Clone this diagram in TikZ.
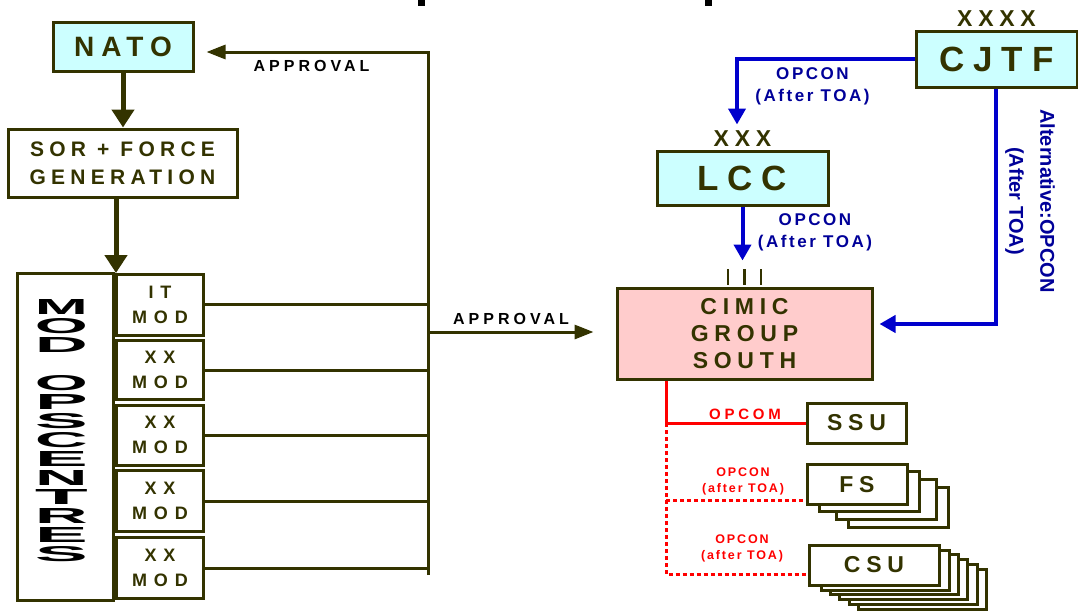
\documentclass[tikz,border=0pt]{standalone}
\usepackage{fontspec}
\usepackage{graphicx}
\setmainfont{Liberation Sans}
\newfontfamily\spc[LetterSpace=25]{Liberation Sans}
\newfontfamily\spcn[LetterSpace=15]{Liberation Sans}
\newfontfamily\spcw[LetterSpace=38]{Liberation Sans}
\usetikzlibrary{arrows.meta,calc,positioning}
\definecolor{drab}{HTML}{333300}
\definecolor{cmdblue}{HTML}{0000CC}
\definecolor{labblue}{HTML}{000099}
\definecolor{hqcyan}{HTML}{CCFFFF}
\definecolor{cimicpink}{HTML}{FFCCCC}
\newcommand\fsz[2]{\fontsize{#1}{#2}\selectfont}
\newcommand\opsl[1]{\resizebox{53pt}{15pt}{#1}}
\tikzset{
  unit box/.style={draw=drab,line width=3pt,fill=white,inner sep=0pt,align=center,text=drab,font=\spc\bfseries\fsz{23}{27}},
  hq box/.style={unit box,fill=hqcyan},
  mod box/.style={unit box,minimum width=87pt,font=\spcw\bfseries\fsz{18}{25}},
  stack box/.style={draw=drab,line width=3pt,fill=white,inner sep=0pt},
  ops text/.style={inner sep=0pt,align=center,text=black,font=\bfseries\fsz{22}{19}},
  echelon/.style={inner sep=0pt,text=drab,font=\spc\bfseries\fsz{23}{27}},
  big edge/.style={draw=drab,line width=5pt,-{Triangle[length=18pt,width=22pt]}},
  bus line/.style={draw=drab,line width=3pt},
  approval edge/.style={bus line,-{Triangle[length=19pt,width=14pt]}},
  approval label/.style={inner sep=0pt,text=black,font=\spc\bfseries\fsz{16}{20}},
  opcon edge/.style={draw=cmdblue,line width=4pt,-{Triangle[length=16pt,width=17pt]}},
  opcon label/.style={inner sep=0pt,align=center,text=labblue,font=\spcn\bfseries\fsz{17}{22}},
  opcom edge/.style={draw=red,line width=3pt},
  opcon red/.style={draw=red,line width=3pt,dash pattern=on 4pt off 3pt},
  red label/.style={inner sep=0pt,align=center,text=red,font=\spcn\bfseries\fsz{12.5}{16}},
}

\begin{document}
\begin{tikzpicture}[x=1pt,y=-1pt]
  \useasboundingbox (0,0) rectangle (1078,613);
  % cut-off title marks
  \fill (418,0) rectangle (425,6);
  \fill (705,0) rectangle (712,6);

  % left column
  \node[hq box,minimum width=140pt,minimum height=49pt,font=\spc\bfseries\fsz{28}{30}] (nato) at (123,46.5) {NATO};
  \node[unit box,minimum width=229pt,minimum height=68pt,font=\spc\bfseries\fsz{21}{28}] (sor) at (122.5,163) {SOR + FORCE\\GENERATION};
  \node[unit box,minimum width=96pt,minimum height=327pt] (opsc) at (65,436.5) {};
  \node[ops text] (opstext) at (61.5,430.5) {\opsl{M}\\\opsl{O}\\\opsl{D}\\[19pt]\opsl{O}\\\opsl{P}\\\opsl{S}\\\opsl{C}\\\opsl{E}\\\opsl{N}\\\opsl{T}\\\opsl{R}\\\opsl{E}\\\opsl{S}};
  \foreach \i/\y/\h/\t in {1/304.5/61/IT,2/370/59/XX,3/435/60/XX,4/501/61/XX,5/568/61/XX}
    \node[mod box,minimum height=\h pt] (m\i) at (160,\y) {\t\\MOD};
  \coordinate (modtop) at (116,273);

  \draw[big edge] (nato.south) -- (nato.south |- sor.north);
  \draw[big edge] (sor.south -| modtop) -- (modtop);

  % approval bus
  \coordinate (bustop) at (428,52);
  \coordinate (busmid) at (428,332);
  \coordinate (busbot) at (428,575);
  \foreach \i in {1,...,5}
    \draw[bus line] (m\i.east) -- (m\i.east -| bustop);
  \draw[approval edge,shorten >=12pt] (busbot) -- (bustop) -- (nato.east |- bustop);
  \node[approval label] (appr1) at (311.5,66) {APPROVAL};

  % right column
  \node[hq box,minimum width=161pt,minimum height=56pt,font=\spc\bfseries\fsz{35}{38}] (cjtf) at (996.5,59) {CJTF};
  \node[echelon,above=3pt of cjtf] (cjtfx) {XXXX};
  \node[hq box,minimum width=171pt,minimum height=54pt,font=\spc\bfseries\fsz{35}{38}] (lcc) at (742.5,178) {LCC};
  \node[echelon,above=3pt of lcc] (lccx) {XXX};
  \node[unit box,fill=cimicpink,minimum width=255pt,minimum height=91pt] (cimic) at (744.5,333.5) {CIMIC\\GROUP\\SOUTH};
  \foreach \dx in {-16.5,0,16.5}
    \draw[drab,line width=2.5pt] ($(cimic.north)+(\dx,-2)$) -- ++(0,-16);

  \draw[approval edge,shorten >=22pt] (busmid) -- (cimic.west |- busmid);
  \node[approval label] (appr2) at (511,319) {APPROVAL};

  \coordinate (opbend) at (737,59);
  \draw[opcon edge,shorten >=25pt] (cjtf.west) -- (opbend) -- (opbend |- lcc.north);
  \node[opcon label] (op1) at (812.5,86) {OPCON\\(After TOA)};
  \draw[opcon edge,shorten >=26pt] (lcc.south) -- (lcc.south |- cimic.north);
  \node[opcon label] (op2) at (815,232) {OPCON\\(After TOA)};
  \coordinate (altbend) at (996,324);
  \draw[opcon edge,shorten >=6pt] (cjtf.south -| altbend) -- (altbend) -- (altbend -| cimic.east);
  \node[inner sep=0pt,align=center,text=labblue,font=\bfseries\fsz{20}{31},rotate=-90] (alt) at (1030,201) {Alternative:OPCON\\(After TOA)};

  % subordinate units
  \node[unit box,minimum width=99pt,minimum height=40pt] (ssu) at (856.5,423) {SSU};
  \foreach \i/\dx/\dy in {3/41/23,2/29/15,1/12/7}
    \node[stack box,minimum width=100pt,minimum height=40pt] (fsb\i) at (857+\dx,484.5+\dy) {};
  \node[unit box,minimum width=100pt,minimum height=40pt] (fs) at (857,484.5) {FS};
  \foreach \i/\dx/\dy in {5/48/24,4/39/19,3/29/14,2/20/9,1/11/5}
    \node[stack box,minimum width=128pt,minimum height=40pt] (csub\i) at (874+\dx,565+\dy) {};
  \node[unit box,minimum width=130pt,minimum height=40pt] (csu) at (874,565) {CSU};

  \coordinate (rbus) at (666,423);
  \coordinate (fsend) at ($(fs.south west)+(0,-6)$);
  \coordinate (csuend) at ($(csu.south west)+(0,-12)$);
  \draw[opcom edge] (rbus |- cimic.south) -- (rbus) -- (ssu.west);
  \draw[opcon red] (rbus) -- (rbus |- csuend) -- (csuend);
  \draw[opcon red] (rbus |- fsend) -- (fsend);
  \node[red label,font=\spc\bfseries\fsz{15}{18}] (opcom) at (745,414) {OPCOM};
  \node[red label] (rl1) at (743,481) {OPCON\\(after TOA)};
  \node[red label] (rl2) at (742,548) {OPCON\\(after TOA)};
\end{tikzpicture}
\end{document}
